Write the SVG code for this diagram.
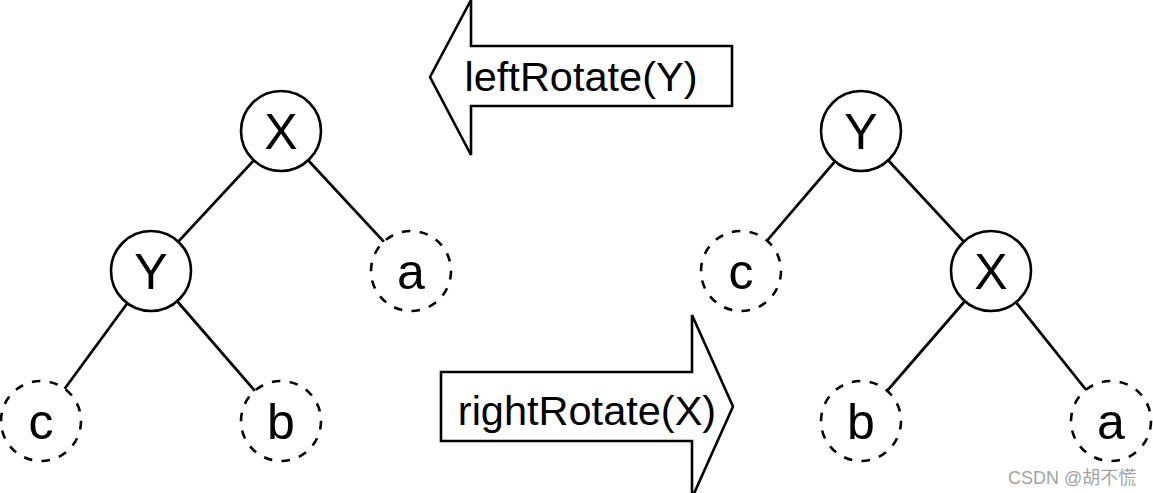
<svg xmlns="http://www.w3.org/2000/svg" width="1153" height="493" viewBox="0 0 1153 493">
  <style>
    .edge { stroke: #000; stroke-width: 2.7; fill: none; }
    .node { fill: #fff; stroke: #000; stroke-width: 2.6; }
    .leaf { fill: #fff; stroke: #000; stroke-width: 2.6; stroke-dasharray: 8.5 9.4; }
    .lbl { font-family: "Liberation Sans", Arial, sans-serif; font-size: 50px; text-anchor: middle; fill: #000; }
    .arrow { fill: #fff; stroke: #000; stroke-width: 2.6; stroke-linejoin: miter; }
    .albl { font-family: "Liberation Sans", Arial, sans-serif; font-size: 41.5px; text-anchor: middle; fill: #000; }
    .wm { font-family: "Liberation Sans", Arial, "Noto Sans CJK SC", sans-serif; font-size: 18px; fill: #a3a3a3; }
  </style>
  <rect width="1153" height="493" fill="#fff"/>
  <g id="connectors">
    <line class="edge" x1="281" y1="131" x2="151" y2="271"/>
    <line class="edge" x1="281" y1="131" x2="411" y2="271"/>
    <line class="edge" x1="151" y1="271" x2="41" y2="421"/>
    <line class="edge" x1="151" y1="271" x2="281" y2="421"/>
    <line class="edge" x1="861" y1="131" x2="741" y2="271"/>
    <line class="edge" x1="861" y1="131" x2="991" y2="271"/>
    <line class="edge" x1="991" y1="271" x2="861" y2="421"/>
    <line class="edge" x1="991" y1="271" x2="1111" y2="421"/>
  </g>
  <g id="left-X"><circle class="node" cx="281" cy="131" r="40"/><text class="lbl" x="281" y="149">X</text></g>
  <g id="left-Y"><circle class="node" cx="151" cy="271" r="40"/><text class="lbl" x="151" y="289">Y</text></g>
  <g id="left-a"><circle class="leaf" cx="411" cy="271" r="40"/><text class="lbl" x="411" y="289">a</text></g>
  <g id="left-c"><circle class="leaf" cx="41" cy="421" r="40"/><text class="lbl" x="41" y="439">c</text></g>
  <g id="left-b"><circle class="leaf" cx="281" cy="421" r="40"/><text class="lbl" x="281" y="439">b</text></g>
  <g id="right-Y"><circle class="node" cx="861" cy="131" r="40"/><text class="lbl" x="861" y="149">Y</text></g>
  <g id="right-c"><circle class="leaf" cx="741" cy="271" r="40"/><text class="lbl" x="741" y="289">c</text></g>
  <g id="right-X"><circle class="node" cx="991" cy="271" r="40"/><text class="lbl" x="991" y="289">X</text></g>
  <g id="right-b"><circle class="leaf" cx="861" cy="421" r="40"/><text class="lbl" x="861" y="439">b</text></g>
  <g id="right-a"><circle class="leaf" cx="1111" cy="421" r="40"/><text class="lbl" x="1111" y="439">a</text></g>
  <g id="leftRotate">
    <polygon class="arrow" points="430,77 471,0 471,46 732,46 732,106 471,106 471,155"/>
    <text class="albl" x="581" y="91">leftRotate(Y)</text>
  </g>
  <g id="rightRotate">
    <polygon class="arrow" points="441,372 692,372 692,315 733,406.5 692,498 692,441 441,441"/>
    <text class="albl" x="587" y="425">rightRotate(X)</text>
  </g>
  <text class="wm" x="1008" y="484">CSDN @胡不慌</text>
</svg>
